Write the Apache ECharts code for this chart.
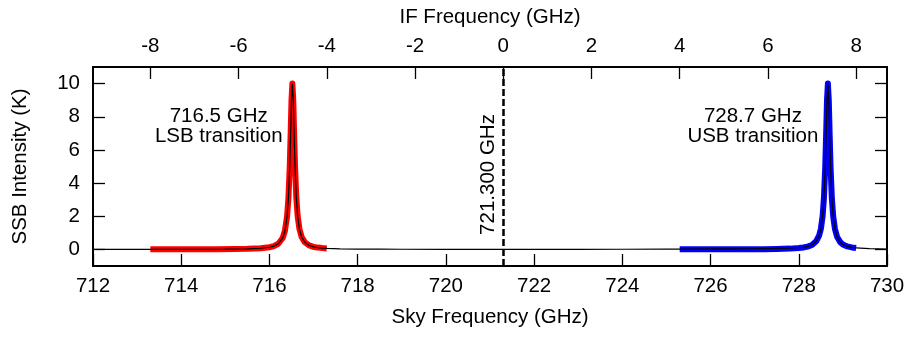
<!DOCTYPE html>
<html>
<head>
<meta charset="utf-8">
<script src="https://cdn.jsdelivr.net/npm/echarts@6/dist/echarts.min.js"></script>
<style>html,body{margin:0;padding:0;background:#fff}#c{width:909px;height:338px}</style>
</head>
<body>
<div id="c"></div>
<script>
// ---- data ----
const skyTicks = [712, 714, 716, 718, 720, 722, 724, 726, 728, 730];
const ifTicks = [-8, -6, -4, -2, 0, 2, 4, 6, 8];
const yTicks = [0, 2, 4, 6, 8, 10];
const loFreq = 721.3;

const lsbX = [713.3, 713.6, 714.0, 714.4, 714.8, 715.2, 715.5, 715.8, 716.0, 716.1, 716.2, 716.3, 716.35, 716.4, 716.43, 716.46, 716.48, 716.5, 716.52, 716.54, 716.56, 716.58, 716.61, 716.64, 716.68, 716.73, 716.8, 716.9, 717.0, 717.1, 717.2, 717.3];
const lsbY = [0.004, 0.004, 0.006, 0.008, 0.012, 0.021, 0.034, 0.069, 0.13, 0.2, 0.34, 0.69, 1.11, 2.0, 3.08, 5.0, 6.92, 9.0, 10.0, 9.0, 6.92, 5.0, 3.08, 2.0, 1.23, 0.75, 0.44, 0.24, 0.15, 0.11, 0.08, 0.06];

const usbX = [725.3, 725.6, 726.0, 726.4, 726.8, 727.2, 727.5, 727.8, 728.0, 728.1, 728.2, 728.3, 728.4, 728.46, 728.5, 728.54, 728.57, 728.6, 728.62, 728.64, 728.66, 728.68, 728.7, 728.72, 728.75, 728.78, 728.82, 728.87, 728.94, 729.0, 729.1, 729.2, 729.3];
const usbY = [0.003, 0.004, 0.005, 0.007, 0.01, 0.017, 0.027, 0.048, 0.082, 0.114, 0.167, 0.27, 0.51, 0.83, 1.23, 2.0, 3.08, 5.0, 6.92, 9.0, 10.0, 9.0, 6.92, 5.0, 3.08, 2.0, 1.23, 0.75, 0.44, 0.3, 0.18, 0.12, 0.087];

const modelX = [712.0, 712.5, 713.0, 713.5, 714.0, 714.5, 715.0, 715.5, 715.8, 716.0, 716.1, 716.2, 716.3, 716.35, 716.4, 716.43, 716.46, 716.48, 716.5, 716.52, 716.54, 716.56, 716.58, 716.61, 716.64, 716.68, 716.73, 716.8, 716.9, 717.0, 717.1, 717.2, 717.3, 717.6, 718.0, 718.5, 719.0, 720.0, 721.0, 722.0, 723.0, 724.0, 725.0, 725.5, 726.0, 726.5, 727.0, 727.5, 727.8, 728.0, 728.1, 728.2, 728.3, 728.4, 728.46, 728.5, 728.54, 728.57, 728.6, 728.62, 728.64, 728.66, 728.68, 728.7, 728.72, 728.75, 728.78, 728.82, 728.87, 728.94, 729.0, 729.1, 729.2, 729.3, 729.6, 730.0];
const modelY = [0.002, 0.003, 0.003, 0.004, 0.006, 0.008, 0.014, 0.034, 0.069, 0.13, 0.2, 0.34, 0.69, 1.11, 2.0, 3.08, 5.0, 6.92, 9.0, 10.0, 9.0, 6.92, 5.0, 3.08, 2.0, 1.23, 0.75, 0.44, 0.24, 0.15, 0.11, 0.08, 0.06, 0.035, 0.022, 0.014, 0.01, 0.008, 0.007, 0.007, 0.008, 0.01, 0.015, 0.02, 0.027, 0.035, 0.045, 0.06, 0.08, 0.1, 0.12, 0.17, 0.27, 0.51, 0.83, 1.23, 2.0, 3.08, 5.0, 6.92, 9.0, 10.0, 9.0, 6.92, 5.0, 3.08, 2.0, 1.23, 0.75, 0.44, 0.3, 0.18, 0.12, 0.087, 0.045, 0.025];

const annoX = [714.85, 726.96];
const annoY = [7.4, 7.4];
const annoText = ['716.5 GHz\nLSB transition', '728.7 GHz\nUSB transition'];
const loLabel = '721.300 GHz';

// ---- chart ----
const zip = (xs, ys) => xs.map((x, i) => [x, ys[i]]);
const FONT = 'Liberation Sans, Arial, sans-serif';
const txt = { color: '#000', fontSize: 20.5, fontFamily: FONT };
const axLine = { show: true, onZero: false, lineStyle: { color: '#000', width: 2 } };
const tick = { show: true, inside: true, length: 12, lineStyle: { color: '#000', width: 1.3 } };

const chart = echarts.init(document.getElementById('c'), null, { renderer: 'canvas' });
chart.setOption({
  animation: false,
  backgroundColor: '#fff',
  grid: { left: 93, right: 22, top: 67, bottom: 72, containLabel: false },
  xAxis: [
    {
      type: 'value', position: 'bottom', min: 712, max: 730, interval: 2,
      name: 'Sky Frequency (GHz)', nameLocation: 'middle', nameGap: 41, nameTextStyle: txt,
      axisLine: axLine,
      axisTick: Object.assign({}, tick, { customValues: skyTicks }),
      axisLabel: Object.assign({}, txt, { margin: 10, customValues: skyTicks }),
      splitLine: { show: false }
    },
    {
      type: 'value', position: 'top', min: 712 - loFreq, max: 730 - loFreq,
      name: 'IF Frequency (GHz)', nameLocation: 'middle', nameGap: 39, nameTextStyle: txt,
      axisLine: axLine,
      axisTick: Object.assign({}, tick, { customValues: ifTicks }),
      axisLabel: Object.assign({}, txt, { margin: 10, customValues: ifTicks }),
      splitLine: { show: false }
    }
  ],
  yAxis: [
    {
      type: 'value', position: 'left', min: -1, max: 11,
      name: 'SSB Intensity (K)', nameLocation: 'middle', nameGap: 62, nameTextStyle: txt,
      axisLine: axLine,
      axisTick: Object.assign({}, tick, { customValues: yTicks }),
      axisLabel: Object.assign({}, txt, { margin: 13, customValues: yTicks }),
      splitLine: { show: false }
    },
    {
      type: 'value', position: 'right', min: -1, max: 11,
      axisLine: axLine,
      axisTick: Object.assign({}, tick, { customValues: yTicks }),
      axisLabel: { show: false },
      splitLine: { show: false }
    }
  ],
  series: [
    {
      type: 'line', xAxisIndex: 0, yAxisIndex: 0, data: zip(lsbX, lsbY),
      showSymbol: false, symbol: 'none',
      lineStyle: { color: '#ff0000', width: 6, join: 'round', cap: 'butt' }
    },
    {
      type: 'line', xAxisIndex: 0, yAxisIndex: 0, data: zip(usbX, usbY),
      showSymbol: false, symbol: 'none',
      lineStyle: { color: '#0000ff', width: 6, join: 'round', cap: 'butt' }
    },
    {
      type: 'line', xAxisIndex: 0, yAxisIndex: 0, data: zip(modelX, modelY),
      showSymbol: false, symbol: 'none',
      lineStyle: { color: '#000', width: 1.2 },
      markLine: {
        silent: true, symbol: 'none', animation: false,
        lineStyle: { color: '#000', width: 2.5, type: [7, 3] },
        label: Object.assign({}, txt, { show: true, formatter: loLabel, position: 'insideMiddleTop', distance: 4, padding: [0, 16, 0, 0] }),
        data: [{ xAxis: loFreq }]
      }
    },
    {
      type: 'scatter', xAxisIndex: 0, yAxisIndex: 0,
      data: annoX.map((x, i) => ({ value: [x, annoY[i]], label: { formatter: annoText[i] } })),
      symbolSize: 0, silent: true,
      itemStyle: { color: '#000' },
      label: Object.assign({}, txt, { show: true, position: 'inside', lineHeight: 20, align: 'center', verticalAlign: 'middle', color: '#000', opacity: 1 })
    }
  ]
});
</script>
</body>
</html>
